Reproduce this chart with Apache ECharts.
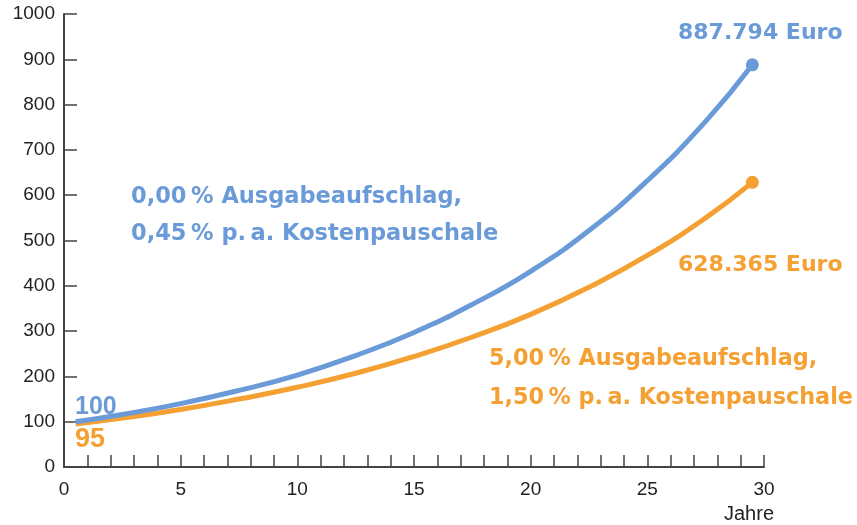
<!DOCTYPE html>
<html>
<head>
<meta charset="utf-8">
<script src="https://cdn.jsdelivr.net/npm/echarts@6/dist/echarts.min.js"></script>
<style>
  html, body { margin: 0; padding: 0; background: #fff; }
  #main { width: 857px; height: 525px; }
</style>
</head>
<body>
<div id="main"></div>
<script>
// Jahre (x) und Depotwert (y)
var jahre = [0.5, 2.5, 5, 7.5, 10, 12.5, 15, 17.5, 20, 22.5, 25, 27.5, 29.5];
var ohneAufschlag = [100, 116, 140, 169, 203, 246, 297, 359, 432, 522, 632, 763, 887.794];
var mitAufschlag = [95, 108, 127, 150, 176, 207, 244, 287, 337, 397, 467, 550, 628.365];
var yTicks = [0, 1000, 100];
var xTicks = [0, 30, 5];

var blau = "#6a9bd8";
var orange = "#f5a032";
var schrift = "DejaVu Sans";
var achsenSchrift = "Liberation Sans";

function paare(xs, ys) {
  return xs.map(function (x, i) { return [x, ys[i]]; });
}

var myChart = echarts.init(document.getElementById("main"));

myChart.setOption({
  animation: false,
  grid: { left: 64, right: 93, top: 14, bottom: 58 },
  xAxis: {
    type: "value",
    min: xTicks[0], max: xTicks[1], interval: xTicks[2],
    splitLine: { show: false },
    axisLine: { lineStyle: { color: "#444", width: 2 } },
    axisTick: { inside: true, length: 12, lineStyle: { color: "#444", width: 1.5 } },
    minorTick: { show: true, splitNumber: 5, length: 12, lineStyle: { color: "#444", width: 1.5 } },
    axisLabel: { color: "#222", fontSize: 19, fontFamily: achsenSchrift, margin: 13 }
  },
  yAxis: {
    type: "value",
    min: yTicks[0], max: yTicks[1], interval: yTicks[2],
    splitLine: { show: false },
    axisLine: { show: true, lineStyle: { color: "#444", width: 2 } },
    axisTick: { show: true, inside: true, length: 13, lineStyle: { color: "#444", width: 1.5 } },
    axisLabel: {
      color: "#222", fontSize: 19, fontFamily: achsenSchrift, margin: 9,
      formatter: function (v) { return String(v); }
    }
  },
  series: [
    {
      type: "line",
      data: paare(jahre, ohneAufschlag),
      smooth: true,
      symbol: "none",
      lineStyle: { color: blau, width: 5 },
      z: 3
    },
    {
      type: "line",
      data: paare(jahre, mitAufschlag),
      smooth: true,
      symbol: "none",
      lineStyle: { color: orange, width: 5 },
      z: 2
    },
    {
      type: "scatter",
      data: [[jahre[jahre.length - 1], ohneAufschlag[ohneAufschlag.length - 1]]],
      symbolSize: 13,
      itemStyle: { color: blau, opacity: 1 },
      z: 4
    },
    {
      type: "scatter",
      data: [[jahre[jahre.length - 1], mitAufschlag[mitAufschlag.length - 1]]],
      symbolSize: 13,
      itemStyle: { color: orange, opacity: 1 },
      z: 4
    }
  ],
  graphic: [
    { type: "text", left: 678, top: 22, style: { text: "887.794 Euro", fill: blau, font: "bold 22px " + schrift } },
    { type: "text", left: 678, top: 254, style: { text: "628.365 Euro", fill: orange, font: "bold 22px " + schrift } },
    { type: "text", left: 131, top: 179, style: { text: "0,00\u2009% Ausgabeaufschlag,\n0,45\u2009% p.\u2009a. Kostenpauschale", fill: blau, font: "bold 22.5px " + schrift, lineHeight: 37 } },
    { type: "text", left: 489, top: 340, style: { text: "5,00\u2009% Ausgabeaufschlag,\n1,50\u2009% p.\u2009a. Kostenpauschale", fill: orange, font: "bold 22.3px " + schrift, lineHeight: 39 } },
    { type: "text", left: 75, top: 395, style: { text: "100", fill: blau, font: "bold 25px " + achsenSchrift } },
    { type: "text", left: 75, top: 426, style: { text: "95", fill: orange, font: "bold 27px " + achsenSchrift } },
    { type: "text", left: 724, top: 504, style: { text: "Jahre", fill: "#222", font: "20px " + achsenSchrift } }
  ]
});
</script>
</body>
</html>
